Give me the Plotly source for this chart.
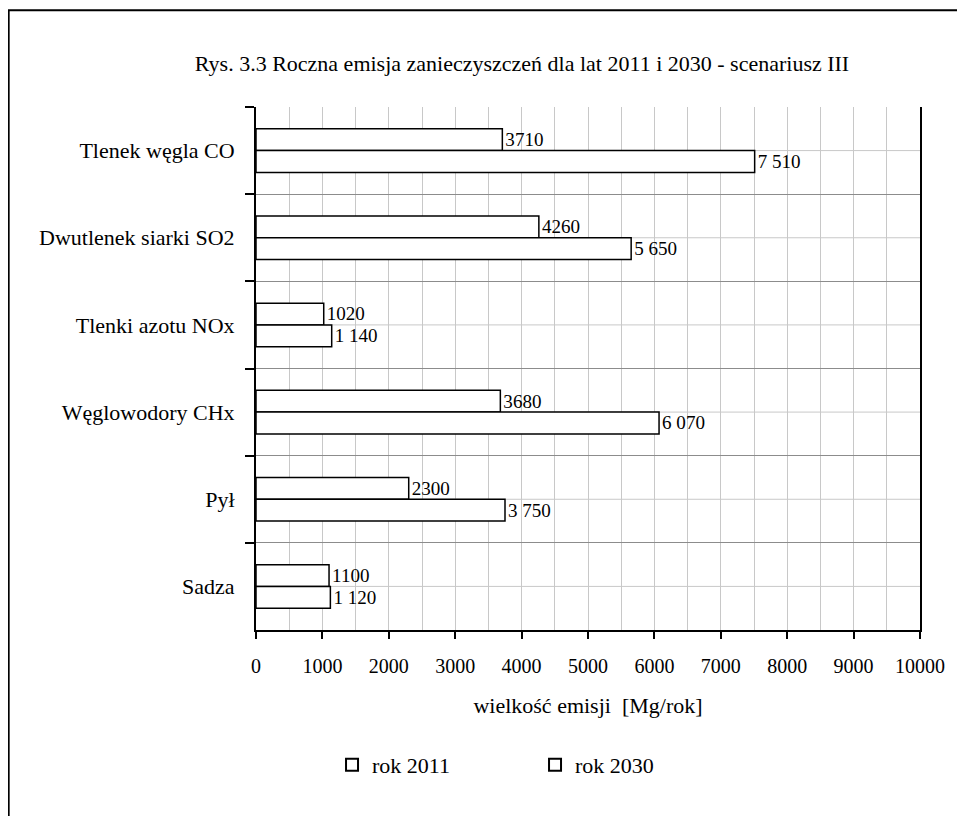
import plotly.graph_objects as go

categories = ["Tlenek węgla CO", "Dwutlenek siarki SO2", "Tlenki azotu NOx",
              "Węglowodory CHx", "Pył", "Sadza"]
values_2011 = [3710, 4260, 1020, 3680, 2300, 1100]
values_2030 = [7510, 5650, 1140, 6070, 3750, 1120]
series_names = ["rok 2011", "rok 2030"]
x_tick_vals = list(range(0, 10001, 1000))
x_tick_text = [str(v) for v in x_tick_vals]

FONT = "Liberation Serif, Times New Roman, serif"

labels_2011 = [str(v) for v in values_2011]
labels_2030 = [f"{v:,}".replace(",", " ") for v in values_2030]

fig = go.Figure()
for name, vals, labels in [(series_names[0], values_2011, labels_2011),
                           (series_names[1], values_2030, labels_2030)]:
    fig.add_trace(go.Bar(
        y=categories, x=vals, name=name, orientation="h",
        marker=dict(color="white", line=dict(color="black", width=1.5)),
        text=labels, textposition="outside", cliponaxis=False,
        textfont=dict(family=FONT, size=21, color="black"),
    ))

# light gridlines at category centres
for c in categories:
    fig.add_shape(type="line", xref="x domain", yref="y", x0=0, x1=1, y0=c, y1=c,
                  line=dict(color="#c8c8c8", width=1), layer="below")

# outer frame
fig.add_shape(type="rect", xref="paper", yref="paper",
              x0=-0.3725, x1=1.2, y0=-0.5, y1=1.185,
              line=dict(color="black", width=2), fillcolor="rgba(0,0,0,0)")

# page body has an 8px margin, so the figure is offset by 8px
W, H = 957, 808
fig.update_layout(
    width=W, height=H,
    margin=dict(l=248, r=45, t=99, b=186),
    paper_bgcolor="white", plot_bgcolor="white",
    barmode="group", bargap=0.5, bargroupgap=0,
    font=dict(family=FONT, size=21, color="black"),
    title=dict(text="Rys. 3.3 Roczna emisja zanieczyszczeń dla lat 2011 i 2030 - scenariusz III",
               x=(522 - 8) / W, xanchor="center", y=1 - (63 - 8) / H, yanchor="middle",
               font=dict(family=FONT, size=22, color="black")),
    xaxis=dict(range=[0, 10000], tickvals=x_tick_vals, ticktext=x_tick_text, showgrid=True,
               gridcolor="#c8c8c8", gridwidth=1,
               minor=dict(dtick=500, tick0=0, showgrid=True, gridcolor="#c8c8c8", gridwidth=1),
               showline=True, linecolor="black", linewidth=2,
               ticks="outside", ticklen=7, tickwidth=1.5, tickcolor="black",
               ticklabelstandoff=10, zeroline=False,
               tickfont=dict(family=FONT, size=20),
               title=dict(text="wielkość emisji  [Mg/rok]", standoff=22,
                          font=dict(family=FONT, size=22))),
    yaxis=dict(autorange="reversed", tickson="boundaries", showgrid=True,
               gridcolor="#8c8c8c", gridwidth=1,
               showline=True, linecolor="black", linewidth=2, mirror=True,
               ticks="outside", ticklen=9, tickwidth=1.5, tickcolor="black",
               ticklabelstandoff=15, zeroline=False,
               tickfont=dict(family=FONT, size=22)),
    legend=dict(orientation="h", x=0.1145, xanchor="left", y=-0.258, yanchor="middle",
                entrywidth=158, entrywidthmode="pixels",
                font=dict(family=FONT, size=22), itemsizing="constant",
                traceorder="normal"),
    showlegend=True,
)

fig.write_html("out.html")
